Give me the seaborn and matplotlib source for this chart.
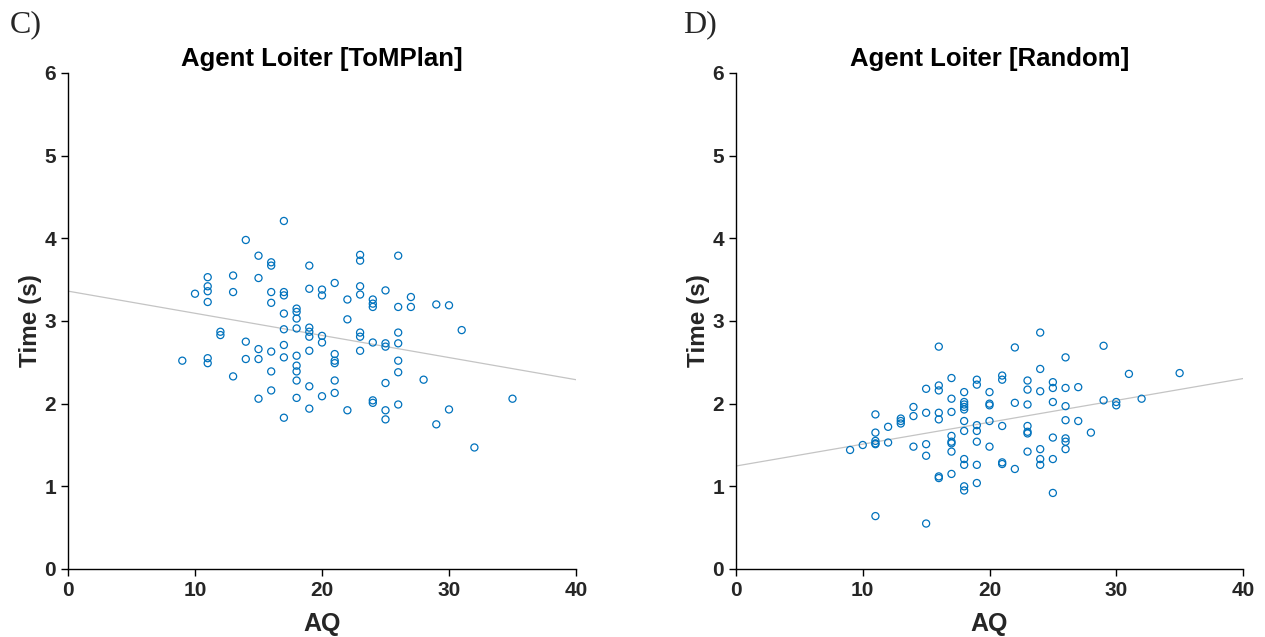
import matplotlib
matplotlib.use("Agg")
import matplotlib.pyplot as plt
import seaborn as sns
import pandas as pd

# ---- data ----
tomplan_groups = {
    9: [2.52],
    10: [3.33],
    11: [3.53, 3.42, 3.36, 3.23, 2.55, 2.49],
    12: [2.87, 2.83],
    13: [3.55, 3.35, 2.33],
    14: [3.98, 2.75, 2.54],
    15: [3.79, 3.52, 2.66, 2.54, 2.06],
    16: [3.71, 3.67, 3.35, 3.22, 2.63, 2.39, 2.16],
    17: [4.21, 3.35, 3.31, 3.09, 2.90, 2.71, 2.56, 1.83],
    18: [3.15, 3.11, 3.03, 2.91, 2.58, 2.46, 2.39, 2.28, 2.07],
    19: [3.67, 3.39, 2.92, 2.87, 2.81, 2.64, 2.21, 1.94],
    20: [3.38, 3.31, 2.82, 2.74, 2.09],
    21: [3.46, 2.60, 2.52, 2.49, 2.28, 2.13],
    22: [3.26, 3.02, 1.92],
    23: [3.80, 3.73, 3.42, 3.32, 2.86, 2.81, 2.64],
    24: [3.26, 3.21, 3.17, 2.74, 2.04, 2.01],
    25: [3.37, 2.73, 2.69, 2.25, 1.92, 1.81],
    26: [3.79, 3.17, 2.86, 2.73, 2.52, 2.38, 1.99],
    27: [3.29, 3.17],
    28: [2.29],
    29: [3.20, 1.75],
    30: [3.19, 1.93],
    31: [2.89],
    32: [1.47],
    35: [2.06],
}

random_groups = {
    9: [1.44],
    10: [1.50],
    11: [1.87, 1.65, 1.55, 1.52, 1.51, 0.64],
    12: [1.72, 1.53],
    13: [1.82, 1.79, 1.76],
    14: [1.96, 1.85, 1.48],
    15: [2.18, 1.89, 1.51, 1.37, 0.55],
    16: [2.69, 2.22, 2.16, 1.89, 1.81, 1.12, 1.10],
    17: [2.31, 2.06, 1.90, 1.61, 1.54, 1.52, 1.42, 1.15],
    18: [2.14, 2.02, 1.99, 1.96, 1.93, 1.79, 1.67, 1.33, 1.26, 1.00, 0.95],
    19: [2.29, 2.23, 1.74, 1.67, 1.54, 1.26, 1.04],
    20: [2.14, 2.00, 1.98, 1.79, 1.48],
    21: [2.34, 2.29, 1.73, 1.29, 1.27],
    22: [2.68, 2.01, 1.21],
    23: [2.28, 2.17, 1.99, 1.73, 1.66, 1.64, 1.42],
    24: [2.86, 2.42, 2.15, 1.45, 1.33, 1.26],
    25: [2.26, 2.19, 2.02, 1.59, 1.33, 0.92],
    26: [2.56, 2.19, 1.97, 1.80, 1.58, 1.54, 1.45],
    27: [2.20, 1.79],
    28: [1.65],
    29: [2.70, 2.04],
    30: [2.02, 1.98],
    31: [2.36],
    32: [2.06],
    35: [2.37],
}

titles = ["Agent Loiter [ToMPlan]", "Agent Loiter [Random]"]
panel_labels = ["C)", "D)"]
x_label = "AQ"
y_label = "Time (s)"
x_ticks = [0, 10, 20, 30, 40]
y_ticks = [0, 1, 2, 3, 4, 5, 6]


def to_frame(groups):
    aq, t = [], []
    for k, vals in groups.items():
        for v in vals:
            aq.append(k)
            t.append(v)
    return pd.DataFrame({"AQ": aq, "Time": t})


sns.set_style("ticks")
plt.rcParams["font.family"] = ["Liberation Sans", "DejaVu Sans"]
plt.rcParams["font.weight"] = "bold"

fig = plt.figure(figsize=(12.65, 6.37), dpi=100)
ax_positions = [[68 / 1265, 68 / 637, 508 / 1265, 496 / 637],
                [736 / 1265, 68 / 637, 507 / 1265, 496 / 637]]
label_x = [10 / 1265, 683 / 1265]

point_color = "#0072BD"
line_color = "#c4c4c4"

for i, groups in enumerate([tomplan_groups, random_groups]):
    df = to_frame(groups)
    ax = fig.add_axes(ax_positions[i])
    ax.set_xlim(0, 40)
    ax.set_ylim(0, 6)
    sns.regplot(data=df, x="AQ", y="Time", ax=ax, ci=None, truncate=False,
                scatter_kws=dict(s=26, facecolors="none", edgecolors=point_color,
                                 linewidths=0.9, alpha=1, zorder=3),
                line_kws=dict(color=line_color, lw=0.9, zorder=2))
    ax.set_xlim(0, 40)
    ax.set_ylim(0, 6)
    ax.set_xticks(x_ticks)
    ax.set_yticks(y_ticks)
    ax.tick_params(axis="both", labelsize=15, direction="out", length=5,
                   width=1, color="black")
    ax.tick_params(axis="x", pad=4)
    for lab in ax.get_xticklabels() + ax.get_yticklabels():
        lab.set_fontweight("bold")
        lab.set_color("#262626")
    ax.set_xlabel(x_label, fontsize=18, fontweight="bold", labelpad=8,
                  color="#262626")
    ax.set_ylabel(y_label, fontsize=17.5, fontweight="bold", labelpad=2,
                  color="#262626")
    ax.set_title(titles[i], fontsize=18.5, fontweight="bold", pad=5,
                 color="black")
    sns.despine(ax=ax)
    for sp in ["left", "bottom"]:
        ax.spines[sp].set_color("black")
        ax.spines[sp].set_linewidth(1.0)
    fig.text(label_x[i], 1 - 10 / 637, panel_labels[i], family="Liberation Serif",
             fontsize=23, fontweight="normal", va="top", ha="left")

fig.savefig("out.png", dpi=100)
